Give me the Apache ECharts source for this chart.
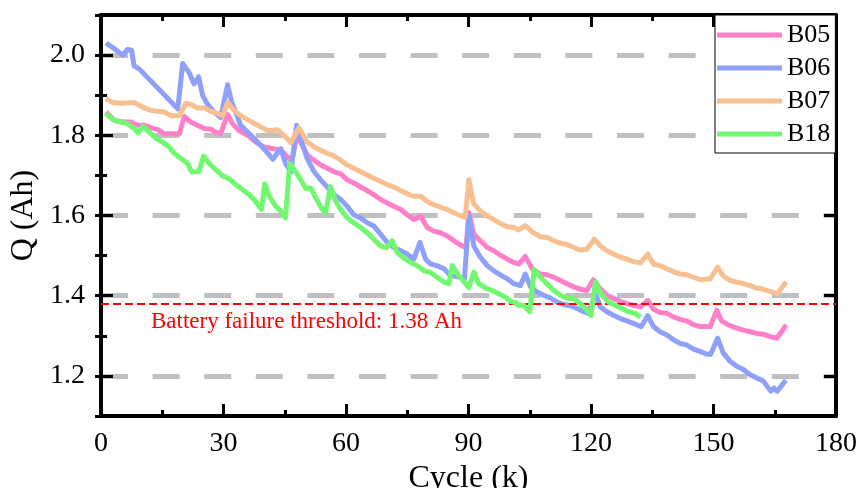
<!DOCTYPE html>
<html>
<head>
<meta charset="utf-8">
<script src="https://cdn.jsdelivr.net/npm/echarts@6/dist/echarts.min.js"></script>
<style>html,body{margin:0;padding:0;background:#fff}#c{width:861px;height:488px}</style>
</head>
<body>
<div id="c"></div>
<script>
var seriesNames = ['B05', 'B06', 'B07', 'B18'];
var seriesColors = ['#FF80C8', '#8FA0FA', '#F8C090', '#70F870'];
var xTicks = [0, 30, 60, 90, 120, 150, 180];
var yTickLabels = [1.2, 1.4, 1.6, 1.8, 2.0];
var threshold = 1.38;
var thresholdText = 'Battery failure threshold: 1.38 Ah';

var b05 = [[1.2,1.858],[3.3,1.837],[5.3,1.833],[7.3,1.833],[9.0,1.825],[10.6,1.825],[12.2,1.819],[13.9,1.814],[15.5,1.804],[17.1,1.804],[19.2,1.804],[20.4,1.847],[22.0,1.833],[23.6,1.825],[25.3,1.817],[26.9,1.815],[28.1,1.808],[29.3,1.804],[31.0,1.852],[32.2,1.829],[33.8,1.812],[35.9,1.800],[37.9,1.783],[39.9,1.771],[42.0,1.767],[44.0,1.763],[46.1,1.742],[46.7,1.734],[48.0,1.800],[48.9,1.783],[50.5,1.751],[52.2,1.738],[53.8,1.726],[55.4,1.718],[57.1,1.709],[58.7,1.704],[60.3,1.689],[61.9,1.681],[63.6,1.671],[65.2,1.662],[66.8,1.652],[68.5,1.640],[70.1,1.631],[71.7,1.623],[73.4,1.615],[75.0,1.602],[76.6,1.590],[78.3,1.598],[79.9,1.570],[81.5,1.561],[83.1,1.557],[84.8,1.549],[86.4,1.537],[88.4,1.524],[89.4,1.520],[90.1,1.607],[91.3,1.553],[92.9,1.537],[94.6,1.520],[96.2,1.512],[97.8,1.501],[99.5,1.491],[101.1,1.483],[102.3,1.479],[103.9,1.498],[105.6,1.467],[107.6,1.454],[109.2,1.452],[110.9,1.446],[112.5,1.438],[114.1,1.430],[115.8,1.422],[117.4,1.416],[119.0,1.413],[120.6,1.440],[122.3,1.417],[123.9,1.401],[125.5,1.393],[127.2,1.386],[128.8,1.380],[130.4,1.376],[132.1,1.372],[133.9,1.388],[135.3,1.366],[136.9,1.358],[138.6,1.356],[140.2,1.347],[141.8,1.341],[143.5,1.337],[145.1,1.328],[146.7,1.323],[149.2,1.323],[150.8,1.364],[152.0,1.337],[153.6,1.327],[155.7,1.319],[157.3,1.314],[159.0,1.310],[160.6,1.306],[162.2,1.304],[163.9,1.298],[165.5,1.294],[167.8,1.327]];

var b06 = [[1.2,2.030],[3.3,2.016],[5.3,2.000],[6.5,2.014],[7.5,2.012],[8.1,1.973],[9.4,1.965],[18.8,1.866],[20.0,1.979],[21.6,1.956],[22.8,1.928],[23.9,1.946],[24.9,1.899],[26.1,1.877],[27.7,1.858],[29.3,1.844],[31.0,1.926],[32.0,1.882],[33.0,1.858],[34.2,1.825],[35.9,1.808],[37.5,1.792],[39.1,1.775],[40.8,1.756],[42.1,1.740],[44.0,1.767],[45.2,1.730],[46.5,1.708],[47.9,1.825],[48.9,1.792],[50.5,1.742],[52.2,1.709],[53.8,1.689],[55.4,1.671],[57.1,1.652],[58.7,1.640],[60.3,1.623],[61.9,1.602],[63.6,1.594],[65.2,1.582],[66.8,1.574],[68.5,1.553],[70.1,1.533],[71.7,1.520],[73.4,1.512],[75.0,1.504],[76.6,1.491],[78.1,1.533],[79.5,1.491],[80.7,1.479],[82.3,1.475],[84.0,1.467],[85.2,1.454],[86.4,1.449],[88.0,1.446],[89.0,1.442],[90.1,1.598],[91.3,1.524],[92.9,1.496],[94.6,1.475],[96.2,1.462],[97.8,1.452],[99.5,1.442],[101.1,1.430],[102.7,1.425],[103.9,1.454],[105.2,1.422],[106.8,1.409],[108.4,1.401],[110.1,1.394],[111.7,1.384],[113.3,1.378],[114.9,1.375],[116.6,1.368],[118.2,1.360],[119.4,1.356],[121.1,1.405],[122.3,1.372],[123.9,1.360],[125.5,1.351],[127.2,1.343],[128.8,1.337],[130.4,1.331],[132.3,1.323],[133.9,1.350],[135.3,1.323],[136.9,1.310],[138.6,1.302],[140.2,1.290],[141.8,1.281],[143.5,1.277],[145.1,1.267],[146.7,1.261],[148.4,1.254],[149.3,1.254],[151.0,1.294],[152.4,1.257],[154.1,1.236],[155.7,1.224],[157.3,1.216],[159.0,1.203],[160.6,1.195],[162.2,1.187],[164.0,1.162],[164.8,1.170],[165.6,1.162],[167.7,1.189]];

var b07 = [[1.2,1.891],[2.9,1.882],[4.9,1.880],[8.1,1.882],[9.8,1.872],[12.2,1.862],[15.5,1.858],[17.1,1.849],[19.2,1.849],[20.8,1.880],[22.0,1.877],[23.6,1.868],[25.3,1.868],[26.9,1.860],[28.5,1.854],[29.8,1.849],[31.0,1.882],[32.6,1.862],[34.2,1.849],[35.9,1.839],[37.5,1.830],[39.1,1.821],[40.8,1.812],[42.0,1.812],[43.2,1.814],[44.8,1.800],[46.5,1.781],[48.5,1.819],[50.5,1.783],[52.2,1.771],[53.8,1.763],[55.4,1.755],[57.1,1.748],[58.7,1.738],[60.3,1.726],[61.9,1.718],[63.6,1.709],[65.2,1.701],[66.8,1.693],[68.5,1.685],[70.1,1.677],[71.7,1.671],[73.4,1.662],[75.0,1.654],[76.6,1.648],[78.3,1.648],[79.9,1.635],[81.5,1.627],[83.1,1.621],[84.8,1.615],[86.4,1.607],[88.0,1.600],[89.2,1.596],[90.1,1.690],[91.2,1.631],[92.9,1.611],[94.6,1.598],[96.2,1.590],[97.8,1.580],[99.5,1.572],[101.1,1.570],[102.3,1.564],[103.9,1.575],[105.6,1.559],[107.6,1.547],[109.2,1.545],[110.9,1.537],[112.5,1.531],[114.1,1.528],[115.8,1.520],[117.4,1.514],[119.0,1.516],[120.8,1.541],[122.3,1.524],[123.9,1.512],[125.5,1.504],[127.2,1.496],[128.8,1.491],[130.4,1.485],[132.1,1.482],[133.9,1.504],[135.3,1.479],[136.9,1.475],[138.6,1.467],[140.2,1.460],[141.8,1.454],[143.5,1.452],[145.1,1.446],[146.7,1.440],[149.2,1.442],[151.0,1.471],[152.4,1.449],[154.1,1.438],[155.7,1.434],[157.3,1.430],[159.0,1.425],[160.6,1.419],[162.2,1.416],[163.9,1.411],[165.6,1.405],[167.8,1.434]];

var b18 = [[1.2,1.854],[2.9,1.839],[4.9,1.833],[6.5,1.829],[8.1,1.817],[9.1,1.806],[10.2,1.822],[11.8,1.808],[13.5,1.792],[15.1,1.783],[16.7,1.771],[17.9,1.755],[19.6,1.742],[21.2,1.730],[22.2,1.709],[24.0,1.709],[25.1,1.748],[26.5,1.730],[28.1,1.714],[29.8,1.699],[31.4,1.691],[33.0,1.677],[34.7,1.664],[36.3,1.652],[37.9,1.635],[39.3,1.615],[40.1,1.679],[41.2,1.648],[42.8,1.623],[44.4,1.607],[45.2,1.594],[46.2,1.730],[47.7,1.709],[48.9,1.689],[50.1,1.668],[51.4,1.668],[52.6,1.644],[54.2,1.615],[55.0,1.607],[56.2,1.672],[57.5,1.635],[58.7,1.615],[60.3,1.594],[61.9,1.582],[63.6,1.570],[65.2,1.557],[66.8,1.541],[68.5,1.524],[69.9,1.520],[71.3,1.537],[72.5,1.508],[74.2,1.493],[75.8,1.483],[77.4,1.475],[79.1,1.462],[80.7,1.458],[82.3,1.446],[84.0,1.434],[85.2,1.430],[86.0,1.475],[87.6,1.450],[89.3,1.430],[90.1,1.420],[91.3,1.459],[92.5,1.430],[94.2,1.419],[95.8,1.413],[97.4,1.405],[99.0,1.397],[100.3,1.386],[101.5,1.383],[102.3,1.376],[103.5,1.376],[105.0,1.360],[106.1,1.465],[107.6,1.446],[109.2,1.430],[110.9,1.413],[112.5,1.401],[114.1,1.394],[115.8,1.393],[117.4,1.380],[119.0,1.364],[120.0,1.351],[121.1,1.434],[122.7,1.401],[124.3,1.384],[125.9,1.376],[127.6,1.368],[129.2,1.360],[130.8,1.356],[132.1,1.347]];

var seriesData = [b05, b06, b07, b18];

var FONT = '"Liberation Serif", "Times New Roman", serif';
var chart = echarts.init(document.getElementById('c'), null, {renderer: 'canvas'});

function xAxisCfg(pos, main) {
  return {
    type: 'value', position: pos, min: xTicks[0], max: xTicks[xTicks.length - 1], interval: 30,
    axisLine: {show: true, onZero: false, lineStyle: {color: '#000', width: 4}},
    axisTick: {show: true, inside: true, length: 12, lineStyle: {color: '#000', width: 3}},
    minorTick: {show: true, splitNumber: 2, length: 6, lineStyle: {color: '#000', width: 3}},
    axisLabel: {show: main, color: '#000', fontFamily: FONT, fontSize: 28, margin: 14},
    splitLine: {show: false},
    name: main ? 'Cycle (k)' : '', nameLocation: 'middle', nameGap: 46,
    nameTextStyle: {color: '#000', fontFamily: FONT, fontSize: 32}
  };
}
function yMajor(pos, main) {
  return {
    type: 'value', position: pos, min: 1.1, max: 2.1, interval: 0.1,
    axisLine: {show: true, onZero: false, lineStyle: {color: '#000', width: 4}},
    axisTick: {show: true, inside: true, length: 12, customValues: yTickLabels, lineStyle: {color: '#000', width: 3}},
    axisLabel: {show: main, customValues: yTickLabels, color: '#000', fontFamily: FONT, fontSize: 28, margin: 16,
      formatter: function (v) { return v.toFixed(1); }},
    splitLine: {show: main, lineStyle: {color: '#C0C0C0', width: 5, type: [27, 24.6], dashOffset: 0}},
    name: main ? 'Q (Ah)' : '', nameLocation: 'middle', nameGap: 54,
    nameTextStyle: {color: '#000', fontFamily: FONT, fontSize: 32}
  };
}
function yMinor(pos) {
  return {
    type: 'value', position: pos, min: 1.1, max: 2.1, interval: 0.1,
    axisLine: {show: false},
    axisTick: {show: true, inside: true, length: 6, lineStyle: {color: '#000', width: 3}},
    axisLabel: {show: false}, splitLine: {show: false}
  };
}

var series = seriesNames.map(function (n, i) {
  return {
    name: n, type: 'line', data: seriesData[i], xAxisIndex: 0, yAxisIndex: 0,
    showSymbol: false, symbol: 'none', color: seriesColors[i],
    lineStyle: {color: seriesColors[i], width: 5, join: 'round'},
    z: 2 + i, silent: true, animation: false
  };
});
series.push({
  name: 'threshold', type: 'line', data: [], xAxisIndex: 0, yAxisIndex: 0, z: 10, animation: false,
  markLine: {
    silent: true, symbol: ['none', 'none'], animation: false,
    lineStyle: {color: '#FF0000', width: 2, type: [8, 4]},
    label: {show: true, position: 'insideStartBottom', formatter: thresholdText, color: '#FF0000',
      fontFamily: FONT, fontSize: 23, distance: [50, 7]},
    data: [{yAxis: threshold}]
  }
});

chart.setOption({
  animation: false,
  grid: {left: 101, right: 25, top: 15, bottom: 72, containLabel: false, outerBoundsMode: 'none'},
  legend: {
    data: seriesNames, orient: 'vertical', left: 715, top: 15,
    backgroundColor: '#fff', borderColor: '#000', borderWidth: 1, borderRadius: 0,
    padding: [7, 5, 6, 2], itemGap: 7, itemWidth: 65, itemHeight: 5, icon: 'rect',
    textStyle: {color: '#000', fontFamily: FONT, fontSize: 26, lineHeight: 26}
  },
  xAxis: [xAxisCfg('bottom', true), xAxisCfg('top', false)],
  yAxis: [yMajor('left', true), yMinor('left'), yMajor('right', false), yMinor('right')],
  series: series
});
</script>
</body>
</html>
